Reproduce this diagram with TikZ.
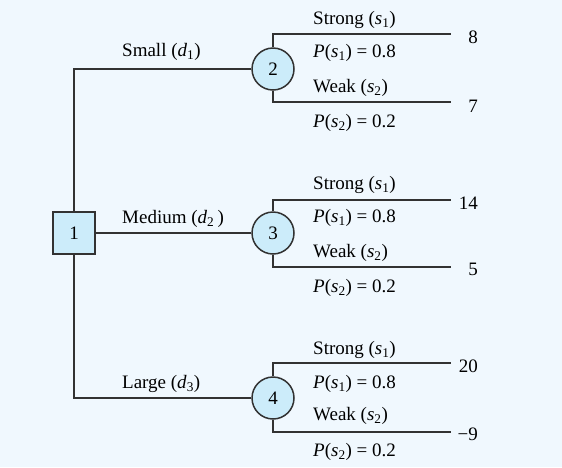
\documentclass[tikz,border=0pt]{standalone}
\usepackage{fontspec}
\setmainfont{Liberation Serif}
\usepackage{tikz}
\usetikzlibrary{positioning, calc}
\definecolor{pagetint}{RGB}{240,248,254}
\definecolor{nodetint}{RGB}{204,236,250}
\definecolor{treeline}{RGB}{50,50,50}
\newcommand{\sv}[1]{\textit{s}\textsubscript{#1}}
\newcommand{\dv}[1]{\textit{d}\textsubscript{#1}}

\begin{document}
\begin{tikzpicture}[
  x=1pt, y=-1pt,
  decision/.style={rectangle, draw=treeline, fill=nodetint, line width=1.5pt,
                   minimum size=42pt, inner sep=0pt, font=\fontsize{19}{22}\selectfont},
  chance/.style={circle, draw=treeline, fill=nodetint, line width=1.5pt,
                 minimum size=42pt, inner sep=0pt, font=\fontsize{19}{22}\selectfont},
  branch/.style={draw=treeline, line width=1.5pt},
  lbl/.style={anchor=west, inner sep=0pt, font=\fontsize{19}{22}\selectfont},
  payoff/.style={anchor=east, inner sep=0pt, font=\fontsize{19}{22}\selectfont},
]
  \fill[pagetint] (0,0) rectangle (562,467);

  % decision and chance nodes
  \node[decision] (n1) at (74,233) {1};
  \node[chance] (n2) at (273,69)  {2};
  \node[chance] (n3) at (273,233) {3};
  \node[chance] (n4) at (273,398) {4};

  % branch ends
  \coordinate (e2s) at (451,34);
  \coordinate (e2w) at (451,102);
  \coordinate (e3s) at (451,200);
  \coordinate (e3w) at (451,267);
  \coordinate (e4s) at (451,363);
  \coordinate (e4w) at (451,432);

  % decision branches
  \draw[branch] (n1.north) |- (n2.west);
  \draw[branch] (n1.east) -- (n3.west);
  \draw[branch] (n1.south) |- (n4.west);
  \node[lbl] (l2) at (122,52)  {Small (\dv{1})};
  \node[lbl] (l3) at (122,219) {Medium (\dv{2}\,)};
  \node[lbl] (l4) at (122,384) {Large (\dv{3})};

  % state branches
  \draw[branch] (n2.north) |- (e2s);
  \draw[branch] (n2.south) |- (e2w);
  \draw[branch] (n3.north) |- (e3s);
  \draw[branch] (n3.south) |- (e3w);
  \draw[branch] (n4.north) |- (e4s);
  \draw[branch] (n4.south) |- (e4w);

  \node[lbl] (t2s) at (313,20)  {Strong (\sv{1})};
  \node[lbl] (p2s) at (313,53)  {\textit{P}(\sv{1}) = 0.8};
  \node[lbl] (t2w) at (313,88)  {Weak (\sv{2})};
  \node[lbl] (p2w) at (313,123) {\textit{P}(\sv{2}) = 0.2};

  \node[lbl] (t3s) at (313,185) {Strong (\sv{1})};
  \node[lbl] (p3s) at (313,218) {\textit{P}(\sv{1}) = 0.8};
  \node[lbl] (t3w) at (313,253) {Weak (\sv{2})};
  \node[lbl] (p3w) at (313,288) {\textit{P}(\sv{2}) = 0.2};

  \node[lbl] (t4s) at (313,350) {Strong (\sv{1})};
  \node[lbl] (p4s) at (313,384) {\textit{P}(\sv{1}) = 0.8};
  \node[lbl] (t4w) at (313,416) {Weak (\sv{2})};
  \node[lbl] (p4w) at (313,452) {\textit{P}(\sv{2}) = 0.2};

  % payoffs
  \node[payoff] (v2s) at (478,37)  {8};
  \node[payoff] (v2w) at (478,106) {7};
  \node[payoff] (v3s) at (478,203) {14};
  \node[payoff] (v3w) at (478,269) {5};
  \node[payoff] (v4s) at (478,366) {20};
  \node[payoff] (v4w) at (478,434) {−9};
\end{tikzpicture}
\end{document}
